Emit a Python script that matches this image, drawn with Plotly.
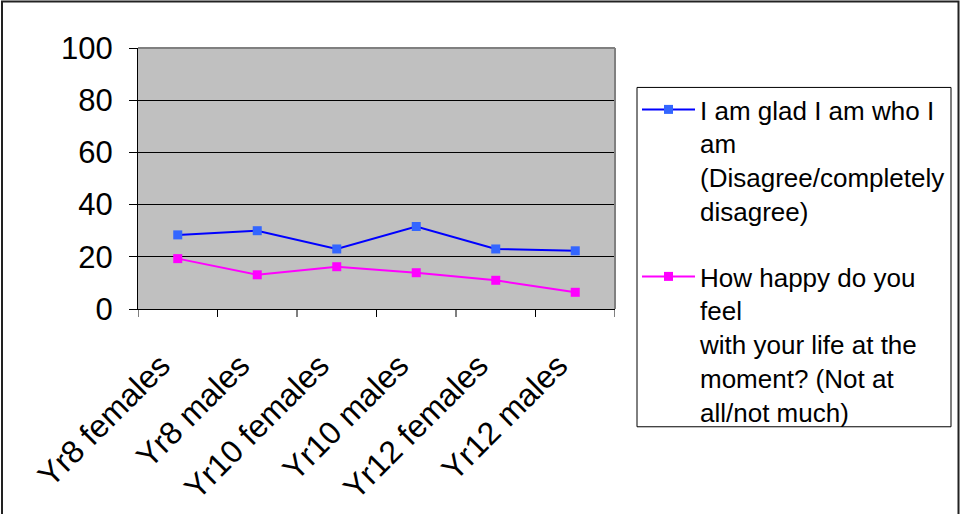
import plotly.graph_objects as go

categories = ["Yr8 females", "Yr8 males", "Yr10 females", "Yr10 males", "Yr12 females", "Yr12 males"]
glad_values = [28.4, 30.0, 23.0, 31.6, 23.0, 22.3]
happy_values = [19.3, 13.1, 16.2, 13.9, 11.0, 6.4]
series_names = [
    "I am glad I am who I<br>am<br>(Disagree/completely<br>disagree)",
    "How happy do you<br>feel<br>with your life at the<br>moment? (Not at<br>all/not much)",
]
y_ticks = [0, 20, 40, 60, 80, 100]

FONT = "Liberation Sans, Arial, sans-serif"
xpos = list(range(len(categories)))

fig = go.Figure()
fig.add_trace(go.Scatter(
    x=xpos, y=glad_values, name=series_names[0], mode="lines+markers",
    line=dict(color="#0000FF", width=2),
    marker=dict(symbol="square", size=9, color="#3366FF"),
    legend="legend",
))
fig.add_trace(go.Scatter(
    x=xpos, y=happy_values, name=series_names[1], mode="lines+markers",
    line=dict(color="#FF00FF", width=2),
    marker=dict(symbol="square", size=9, color="#FF00FF"),
    legend="legend2",
))

L, R, T, B = 138, 615, 47.5, 309
W, H = 972, 514
pw, ph = R - L, B - T

def px_x(x):
    return (x - L) / pw

def px_y(y):
    return (B - y) / ph

leg_common = dict(
    xref="container", yref="container", xanchor="left", yanchor="top",
    bgcolor="rgba(0,0,0,0)", borderwidth=0,
    font=dict(size=26, family=FONT, color="black"),
    valign="top", itemwidth=53,
)

fig.update_layout(
    width=W, height=H,
    margin=dict(l=L, r=W - R, t=T, b=H - B, autoexpand=False),
    paper_bgcolor="white",
    plot_bgcolor="#C0C0C0",
    font=dict(family=FONT, color="black"),
    showlegend=True,
    legend=dict(x=637 / W, y=1 - 86 / H, **leg_common),
    legend2=dict(x=637 / W, y=1 - 253 / H, **leg_common),
    xaxis=dict(
        range=[-0.5, len(categories) - 0.5],
        tickmode="array", tickvals=xpos, ticktext=categories,
        tickangle=-45, tickfont=dict(size=32, family=FONT, color="black"),
        showgrid=False, zeroline=False,
        showline=True, linecolor="black", linewidth=1,
        ticks="", automargin=False,
        ticklabelstandoff=24, ticklabelshift=-17,
    ),
    yaxis=dict(
        range=[0, 100], tickmode="array", tickvals=y_ticks,
        tickfont=dict(size=31, family=FONT, color="black"),
        showgrid=True, gridcolor="#000000", gridwidth=1,
        zeroline=False,
        showline=True, linecolor="black", linewidth=1,
        ticks="outside", ticklen=8, tickcolor="black", automargin=False,
        ticklabelstandoff=10,
    ),
)

shapes = []
# plot-area border (gray top/right)
shapes.append(dict(type="line", xref="paper", yref="paper", x0=0, x1=1, y0=1, y1=1,
                   line=dict(color="#808080", width=2)))
shapes.append(dict(type="line", xref="paper", yref="paper", x0=1, x1=1, y0=0, y1=1,
                   line=dict(color="#808080", width=2)))
# x-axis tick marks at category boundaries
for i in range(len(categories) + 1):
    shapes.append(dict(type="line", xref="x", yref="paper", x0=i - 0.5, x1=i - 0.5,
                       y0=0, y1=-8 / ph, line=dict(color="black", width=1)))
# outer chart border
shapes.append(dict(type="rect", xref="paper", yref="paper",
                   x0=px_x(2), x1=px_x(958.5), y0=px_y(530), y1=px_y(1),
                   line=dict(color="#222222", width=2), fillcolor="rgba(0,0,0,0)", layer="below"))
# legend box (frames both legend groups)
shapes.append(dict(type="rect", xref="paper", yref="paper",
                   x0=px_x(637), x1=px_x(951), y0=px_y(427), y1=px_y(87),
                   line=dict(color="black", width=1), fillcolor="white", layer="above"))
fig.update_layout(shapes=shapes)

fig.write_html("out.html")
